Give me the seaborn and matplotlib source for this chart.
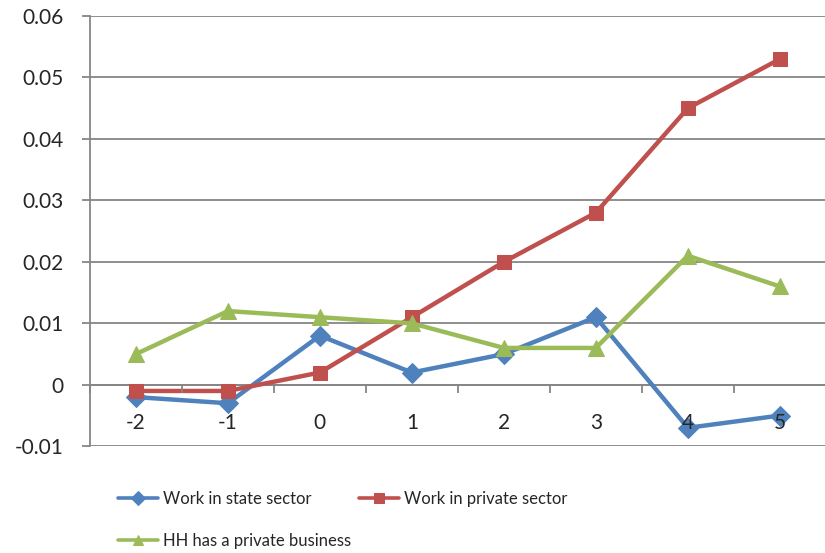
import pandas as pd
import matplotlib
matplotlib.use("Agg")
import matplotlib.pyplot as plt
import seaborn as sns

# data
periods = [-2, -1, 0, 1, 2, 3, 4, 5]
state_sector = [-0.002, -0.003, 0.008, 0.002, 0.005, 0.011, -0.007, -0.005]
private_sector = [-0.001, -0.001, 0.002, 0.011, 0.020, 0.028, 0.045, 0.053]
private_business = [0.005, 0.012, 0.011, 0.010, 0.006, 0.006, 0.021, 0.016]
series_names = ["Work in state sector", "Work in private sector", "HH has a private business"]
y_ticks = [-0.01, 0, 0.01, 0.02, 0.03, 0.04, 0.05, 0.06]

sns.set_style("white")
plt.rcParams["font.family"] = ["Lato", "DejaVu Sans"]

fig = plt.figure(figsize=(8.25, 5.53), dpi=100)
ax = fig.add_axes([0.109, 0.193, 0.892, 0.778])

grey = "#868686"
styles = [("#4F81BD", "D", 10), ("#C0504D", "s", 10), ("#9BBB59", "^", 11)]
values = [state_sector, private_sector, private_business]

for name, vals, (col, mk, ms) in zip(series_names, values, styles):
    df = pd.DataFrame({"period": periods, "value": vals})
    sns.lineplot(data=df, x="period", y="value", ax=ax, color=col, marker=mk,
                 markersize=ms, markeredgecolor=col, linewidth=3.2, label=name)

ax.set_xlim(-2.5, 5.5)
ax.set_ylim(-0.01, 0.06)
ax.set_yticks(y_ticks)
ax.set_yticklabels(["-0.01", "0", "0.01", "0.02", "0.03", "0.04", "0.05", "0.06"])
ax.set_xticks(periods)
ax.set_xticklabels([str(p) for p in periods])
ax.set_xticks([p + 0.5 for p in periods[:-1]] + [-2.5], minor=True)
ax.set_xlabel("")
ax.set_ylabel("")

ax.grid(axis="y", color=grey, linewidth=1.3)
ax.set_axisbelow(True)
ax.xaxis.set_zorder(3)  # category labels sit on top of the lines
for s in ["top", "right"]:
    ax.spines[s].set_visible(False)
ax.spines["left"].set_color(grey)
ax.spines["left"].set_linewidth(1.3)
ax.spines["bottom"].set_position(("data", 0))
ax.spines["bottom"].set_color(grey)
ax.spines["bottom"].set_linewidth(1.3)
ax.spines["bottom"].set_zorder(1)

ax.tick_params(axis="y", which="major", length=6, width=1.3, color=grey,
               direction="out", left=True, labelsize=15, pad=13)
ax.tick_params(axis="x", which="major", length=0, labelsize=15, pad=20)
ax.tick_params(axis="x", which="minor", length=6, width=1.3, color=grey,
               direction="out", bottom=True)

h, l = ax.get_legend_handles_labels()
ax.get_legend().remove()
leg = fig.legend([h[0], h[2], h[1]], [l[0], l[2], l[1]], ncol=2, loc="lower left",
                 bbox_to_anchor=(0.143, 0.008), frameon=False, fontsize=12,
                 handlelength=2.4, columnspacing=0.5, labelspacing=1.55,
                 handletextpad=0.3, borderpad=0, borderaxespad=0)
for lh in leg.legend_handles:
    lh.set_markersize(7)
    lh.set_linewidth(2.6)

fig.savefig("out.png", dpi=100)
